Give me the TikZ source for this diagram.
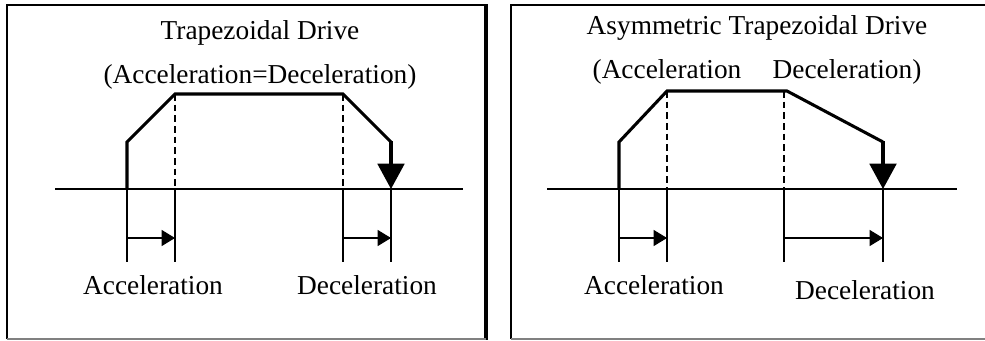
\documentclass[tikz,border=0pt]{standalone}
\usepackage{fontspec}
\setmainfont{Liberation Serif}
\usetikzlibrary{arrows.meta}
\tikzset{
  profile/.style={line width=2.3pt, line join=miter},
  drop/.style={line width=2.3pt, -{Triangle[length=19pt,width=20pt]}},
  axis/.style={line width=0.8pt},
  guide/.style={line width=0.8pt, dashed, dash pattern=on 5pt off 3pt},
  span/.style={line width=0.8pt, -{Triangle[length=10pt,width=12pt]}},
  lbl/.style={font=\fontsize{20.5}{24}\selectfont, inner sep=0pt}
}
\begin{document}
\begin{tikzpicture}[x=0.75pt,y=-0.75pt]
  \useasboundingbox (0,0) rectangle (985,340);

  % Frames
  \draw[line width=1.6pt] (7,339) -- (7,5) -- (487,5);
  \draw[line width=3.4pt] (486,4) -- (486,340);
  \draw[line width=0.8pt, gray] (7,339) -- (486,339);
  \draw[line width=1.6pt] (511,339) -- (511,5) -- (990,5);
  \draw[line width=0.8pt, gray] (511,339) -- (990,339);

  % ---- Trapezoidal drive ----
  \node[lbl] (titleA) at (260,33) {Trapezoidal Drive};
  \node[lbl] (ratioA) at (260,77) {(Acceleration=Deceleration)};

  % Draw the axis
  \draw[axis] (55,189) -- (463,189);

  % Draw the profile
  \draw[profile] (127,189) -- (127,142) -- (175,94) -- (343,94) -- (391,142);
  \draw[drop] (391,141) -- (391,189);

  % Dashed guides
  \foreach \x in {175,343} {
    \draw[guide] (\x,94) -- (\x,189);
  }

  % Time markers
  \foreach \x in {127,175,343,391} {
    \draw[axis] (\x,189) -- (\x,262);
  }
  \draw[span] (127,238) -- (175,238);
  \draw[span] (343,238) -- (391,238);

  \node[lbl] (accA) at (153,285) {Acceleration};
  \node[lbl] (decA) at (367,285) {Deceleration};

  % ---- Asymmetric trapezoidal drive ----
  \node[lbl] (titleB) at (757,28) {Asymmetric Trapezoidal Drive};
  \node[lbl] (ratioB1) at (667,72) {(Acceleration};
  \node[lbl] (ratioB2) at (847,72) {Deceleration)};

  % Draw the axis
  \draw[axis] (547,189) -- (957,189);

  % Draw the profile
  \draw[profile] (619,189) -- (619,142) -- (667,91) -- (787,91) -- (883,142);
  \draw[drop] (883,141) -- (883,189);

  % Dashed guides
  \foreach \x in {667,784} {
    \draw[guide] (\x,91) -- (\x,189);
  }

  % Time markers
  \foreach \x in {619,667,784,883} {
    \draw[axis] (\x,189) -- (\x,262);
  }
  \draw[span] (619,238) -- (667,238);
  \draw[span] (784,238) -- (883,238);

  \node[lbl] (accB) at (654,285) {Acceleration};
  \node[lbl] (decB) at (865,290) {Deceleration};
\end{tikzpicture}
\end{document}
